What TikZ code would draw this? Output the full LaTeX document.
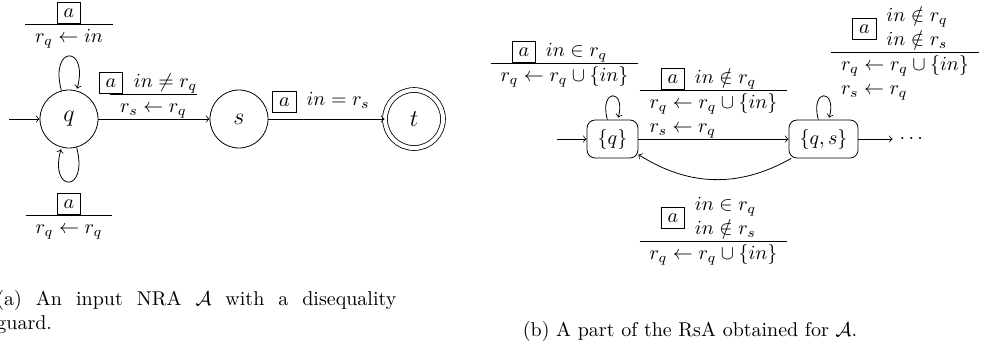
\documentclass[tikz,border=0pt]{standalone}
\usepackage{amsmath}

\newcommand{\ablk}{\boxed{a}}
\newcommand{\grd}[1]{\begin{array}{l}#1\end{array}}
\newcommand{\trans}[2]{$\begin{array}{c}#1\\\hline\begin{array}{@{}l@{}}#2\end{array}\end{array}$}

\begin{document}
\begin{tikzpicture}[x=0.5pt,y=0.5pt,>=to,
  st/.style={circle,draw,minimum size=29pt,inner sep=0pt,font=\large},
  rs/.style={rectangle,rounded corners=4pt,draw,minimum height=19pt,inner xsep=5.3pt,inner ysep=0pt},
  lab/.style={inner sep=0pt}]
\useasboundingbox (0,0) rectangle (990,-345);

% (a) the NRA
\node[st] (q) at (69,-119) {$q$};
\node[st] (s) at (239,-119) {$s$};
\node[st,double,double distance=2pt] (t) at (414,-119) {$t$};
\coordinate (qin) at (9,-119);
\draw[->] (qin) -- (q);
\path[->] (q) edge[loop above] (q) edge[loop below] (q) edge (s);
\path[->] (s) edge (t);
\node[lab,anchor=north] (lqa) at (69,0) {\trans{\ablk}{r_q\leftarrow in}};
\node[lab,anchor=north] (lqb) at (69,-191) {\trans{\ablk}{r_q\leftarrow r_q}};
\node[lab,anchor=north] (lqs) at (153.5,-70) {$\begin{array}{@{}c@{}}\hspace{-5.5pt}\ablk\hspace{5.5pt}in\neq r_q\\\hline r_s\leftarrow r_q\end{array}$};
\node[lab,anchor=west] (lst) at (272,-101) {$\ablk\grd{in=r_s}$};
\node[anchor=base west,inner sep=0pt,align=left] (capa) at (-4,-329) {\makebox[200pt][s]{(a) An input NRA $\mathcal{A}$ with a disequality}\\guard.};

% (b) the RsA
\node[rs] (r0) at (612.5,-139) {$\{q\}$};
\node[rs] (r1) at (823.5,-139) {$\{q,s\}$};
\node (dots) at (913,-139) {$\cdots$};
\coordinate (rin) at (557,-139);
\draw[->] (rin) -- (r0);
\path[->] (r0) edge[loop above] (r0) edge (r1);
\path[->] (r1) edge[loop above] (r1) edge (dots) edge[bend left=31] (r0);
\node[lab,anchor=north] (l00) at (564.5,-38.8) {\trans{\ablk\grd{in\in r_q}}{r_q\leftarrow r_q\cup\{in\}}};
\node[lab,anchor=north] (l01) at (713.5,-65.8) {\trans{\ablk\grd{in\notin r_q}}{r_q\leftarrow r_q\cup\{in\}\\r_s\leftarrow r_q}};
\node[lab,anchor=north] (l11) at (905,-4) {\trans{\ablk\grd{in\notin r_q\\in\notin r_s}}{r_q\leftarrow r_q\cup\{in\}\\r_s\leftarrow r_q}};
\node[lab,anchor=north] (l10) at (713.5,-193) {\trans{\ablk\grd{in\in r_q\\in\notin r_s}}{r_q\leftarrow r_q\cup\{in\}}};
\node[anchor=base,inner sep=0pt] (capb) at (690,-336) {(b) A part of the RsA obtained for $\mathcal{A}$.};
\end{tikzpicture}
\end{document}
